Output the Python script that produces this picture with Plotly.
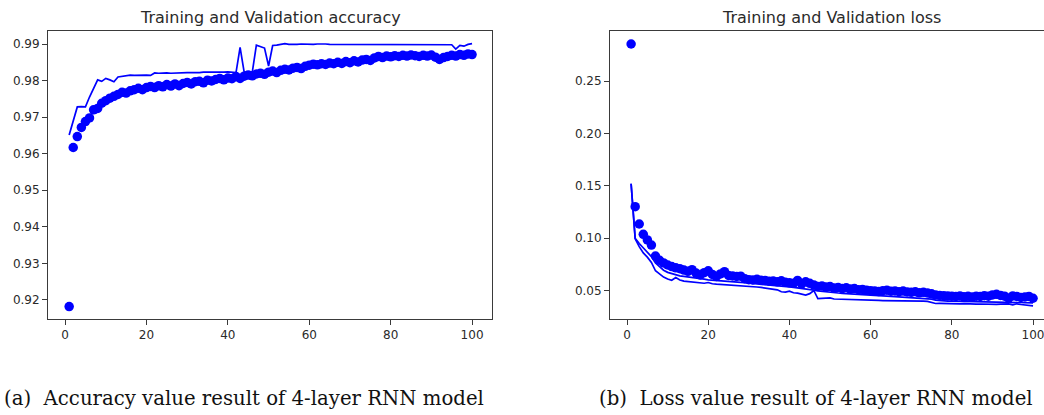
import plotly.graph_objects as go

W, H = 1044, 415

epochs = list(range(1, 101))

train_acc = [
    0.9182, 0.9617, 0.9647, 0.9672, 0.9688, 0.9698, 0.9720, 0.9724, 0.9738, 0.9745,
    0.9752, 0.9757, 0.9762, 0.9768, 0.9766, 0.9772, 0.9775, 0.9779, 0.9775, 0.9781,
    0.9784, 0.9781, 0.9786, 0.9783, 0.9789, 0.9785, 0.9791, 0.9786, 0.9792, 0.9795,
    0.9791, 0.9797, 0.9798, 0.9794, 0.9801, 0.9799, 0.9803, 0.9806, 0.9802, 0.9807,
    0.9805, 0.9811, 0.9806, 0.9812, 0.9815, 0.9813, 0.9818, 0.9820, 0.9817, 0.9823,
    0.9826, 0.9822, 0.9828, 0.9831, 0.9829, 0.9834, 0.9836, 0.9833, 0.9839, 0.9842,
    0.9845, 0.9843, 0.9846, 0.9844, 0.9848, 0.9846, 0.9850, 0.9847, 0.9852, 0.9849,
    0.9854, 0.9851, 0.9856, 0.9858, 0.9855, 0.9862, 0.9866, 0.9863, 0.9867, 0.9865,
    0.9868, 0.9866, 0.9869, 0.9867, 0.9870, 0.9868, 0.9866, 0.9869, 0.9867, 0.9870,
    0.9864, 0.9858, 0.9863, 0.9866, 0.9869, 0.9867, 0.9871, 0.9869, 0.9873, 0.9871,
]

val_acc = [
    0.9651, 0.9690, 0.9728, 0.9729, 0.9728, 0.9755, 0.9780, 0.9802, 0.9798, 0.9806,
    0.9802, 0.9797, 0.9810, 0.9812, 0.9813, 0.9815, 0.9814, 0.9815, 0.9816, 0.9815,
    0.9814, 0.9821, 0.9820, 0.9821, 0.9821, 0.9820, 0.9821, 0.9822, 0.9821, 0.9822,
    0.9822, 0.9821, 0.9822, 0.9823, 0.9822, 0.9823, 0.9823, 0.9822, 0.9823, 0.9824,
    0.9823, 0.9822, 0.9891, 0.9823, 0.9824, 0.9823, 0.9897, 0.9894, 0.9889, 0.9840,
    0.9896, 0.9897, 0.9899, 0.9901, 0.9899, 0.9898, 0.9899, 0.9900, 0.9899, 0.9898,
    0.9899, 0.9900, 0.9901, 0.9900, 0.9899, 0.9899, 0.9900, 0.9899, 0.9900, 0.9899,
    0.9898, 0.9899, 0.9900, 0.9899, 0.9900, 0.9899, 0.9898, 0.9899, 0.9898, 0.9899,
    0.9900, 0.9899, 0.9898, 0.9899, 0.9900, 0.9899, 0.9898, 0.9899, 0.9900, 0.9899,
    0.9898, 0.9899, 0.9900, 0.9899, 0.9898, 0.9886, 0.9896, 0.9894, 0.9899, 0.9901,
]

train_loss = [
    0.2853, 0.1301, 0.1136, 0.1038, 0.0984, 0.0935, 0.0831, 0.0790, 0.0765, 0.0745,
    0.0730, 0.0718, 0.0710, 0.0697, 0.0685, 0.0700, 0.0668, 0.0650, 0.0672, 0.0690,
    0.0655, 0.0636, 0.0660, 0.0681, 0.0645, 0.0640, 0.0636, 0.0638, 0.0615, 0.0605,
    0.0602, 0.0608, 0.0600, 0.0598, 0.0590, 0.0592, 0.0585, 0.0594, 0.0580, 0.0575,
    0.0570, 0.0598, 0.0565, 0.0585, 0.0570, 0.0555, 0.0540, 0.0545, 0.0535, 0.0540,
    0.0525, 0.0530, 0.0520, 0.0528, 0.0515, 0.0520, 0.0510, 0.0512, 0.0505, 0.0500,
    0.0498, 0.0492, 0.0500, 0.0505, 0.0495, 0.0498, 0.0490, 0.0496, 0.0488, 0.0485,
    0.0490, 0.0480, 0.0485, 0.0478, 0.0470, 0.0458, 0.0455, 0.0452, 0.0450, 0.0448,
    0.0445, 0.0450, 0.0442, 0.0446, 0.0440, 0.0448, 0.0445, 0.0452, 0.0448, 0.0460,
    0.0465, 0.0455, 0.0448, 0.0428, 0.0450, 0.0445, 0.0435, 0.0440, 0.0445, 0.0428,
]

val_loss = [
    0.1520, 0.0995, 0.0920, 0.0860, 0.0820, 0.0770, 0.0690, 0.0660, 0.0630, 0.0612,
    0.0600, 0.0625, 0.0602, 0.0592, 0.0588, 0.0585, 0.0580, 0.0576, 0.0571, 0.0578,
    0.0566, 0.0562, 0.0560, 0.0557, 0.0552, 0.0549, 0.0547, 0.0546, 0.0544, 0.0541,
    0.0538, 0.0535, 0.0531, 0.0526, 0.0522, 0.0515, 0.0508, 0.0490, 0.0486, 0.0496,
    0.0480, 0.0476, 0.0470, 0.0458, 0.0472, 0.0502, 0.0424, 0.0425, 0.0426, 0.0432,
    0.0421, 0.0419, 0.0418, 0.0416, 0.0415, 0.0413, 0.0412, 0.0411, 0.0410, 0.0409,
    0.0408, 0.0407, 0.0406, 0.0406, 0.0405, 0.0404, 0.0404, 0.0403, 0.0403, 0.0402,
    0.0401, 0.0401, 0.0400, 0.0398, 0.0390, 0.0378, 0.0379, 0.0377, 0.0376, 0.0378,
    0.0375, 0.0374, 0.0376, 0.0373, 0.0374, 0.0372, 0.0373, 0.0371, 0.0372, 0.0373,
    0.0370, 0.0372, 0.0371, 0.0374, 0.0365, 0.0375, 0.0368, 0.0363, 0.0360, 0.0356,
]

val_loss_b = [
    0.1520, 0.1000, 0.0950, 0.0905, 0.0865, 0.0825, 0.0765, 0.0725, 0.0695, 0.0675,
    0.0662, 0.0650, 0.0641, 0.0636, 0.0632, 0.0628, 0.0622, 0.0616, 0.0610, 0.0604,
    0.0600, 0.0597, 0.0594, 0.0591, 0.0588, 0.0585, 0.0582, 0.0579, 0.0576, 0.0573,
    0.0570, 0.0567, 0.0564, 0.0561, 0.0558, 0.0554, 0.0550, 0.0545, 0.0540, 0.0536,
    0.0531, 0.0527, 0.0522, 0.0517, 0.0512, 0.0505, 0.0498, 0.0493, 0.0489, 0.0486,
    0.0482, 0.0478, 0.0475, 0.0472, 0.0469, 0.0466, 0.0463, 0.0461, 0.0458, 0.0456,
    0.0453, 0.0451, 0.0449, 0.0447, 0.0445, 0.0443, 0.0441, 0.0439, 0.0437, 0.0435,
    0.0433, 0.0431, 0.0429, 0.0426, 0.0420, 0.0410, 0.0405, 0.0403, 0.0401, 0.0400,
    0.0399, 0.0398, 0.0397, 0.0396, 0.0396, 0.0395, 0.0394, 0.0394, 0.0393, 0.0392,
    0.0392, 0.0391, 0.0390, 0.0389, 0.0388, 0.0389, 0.0387, 0.0386, 0.0385, 0.0384,
]

acc_yticks = [0.92, 0.93, 0.94, 0.95, 0.96, 0.97, 0.98, 0.99]
loss_yticks = [0.05, 0.10, 0.15, 0.20, 0.25]
xticks = [0, 20, 40, 60, 80, 100]

titles = ["Training and Validation accuracy", "Training and Validation loss"]
captions = ["(a)  Accuracy value result of 4-layer RNN model",
            "(b)  Loss value result of 4-layer RNN model"]

BLUE = "#0000ff"
AX = "#3a3a3a"
TXT = "#2a2a2a"

fig = go.Figure()

# accuracy panel
fig.add_trace(go.Scatter(x=epochs, y=train_acc, mode="markers",
                         marker=dict(color=BLUE, size=9.5, line=dict(width=0)),
                         xaxis="x", yaxis="y", showlegend=False))
fig.add_trace(go.Scatter(x=epochs, y=val_acc, mode="lines",
                         line=dict(color=BLUE, width=1.7),
                         xaxis="x", yaxis="y", showlegend=False))
# loss panel
fig.add_trace(go.Scatter(x=epochs, y=train_loss, mode="markers",
                         marker=dict(color=BLUE, size=9.5, line=dict(width=0)),
                         xaxis="x2", yaxis="y2", showlegend=False))
fig.add_trace(go.Scatter(x=epochs, y=val_loss_b, mode="lines",
                         line=dict(color=BLUE, width=1.7),
                         xaxis="x2", yaxis="y2", showlegend=False))
fig.add_trace(go.Scatter(x=epochs, y=val_loss, mode="lines",
                         line=dict(color=BLUE, width=1.7),
                         xaxis="x2", yaxis="y2", showlegend=False))


def px_x(p):
    return p / W


def px_y(p):
    return 1 - p / H


top, bottom = 31, 319
tickfont = dict(family="DejaVu Sans", size=12, color=TXT)
common_x = dict(showgrid=False, zeroline=False, showline=True, linecolor=AX, linewidth=1,
                ticks="outside", ticklen=5, tickcolor=AX, tickwidth=1,
                tickvals=xticks, ticktext=[str(v) for v in xticks], tickfont=tickfont,
                ticklabeloverflow="allow")
common_y = dict(showgrid=False, zeroline=False, showline=True, linecolor=AX, linewidth=1,
                ticks="outside", ticklen=5, tickcolor=AX, tickwidth=1, tickfont=tickfont)

fig.update_layout(
    width=W, height=H, margin=dict(l=0, r=0, t=0, b=0),
    paper_bgcolor="white", plot_bgcolor="white",
    xaxis=dict(domain=[px_x(48), px_x(492)], range=[-4.2, 104.9], anchor="y",
               mirror=True, **common_x),
    yaxis=dict(domain=[px_y(bottom), px_y(top)], range=[0.9148, 0.99356], anchor="x",
               mirror=True, tickvals=acc_yticks, ticktext=[f"{v:.2f}" for v in acc_yticks],
               **common_y),
    xaxis2=dict(domain=[px_x(610), 1.0], range=[-4.2, 102.7], anchor="y2",
                mirror=True, **common_x),
    yaxis2=dict(domain=[px_y(bottom), px_y(top)], range=[0.0230, 0.2977], anchor="x2",
                tickvals=loss_yticks, ticktext=[f"{v:.2f}" for v in loss_yticks],
                **common_y),
)

annotations = [
    dict(text=titles[0], x=px_x(270), y=px_y(17), xref="paper", yref="paper",
         xanchor="center", yanchor="middle", showarrow=False,
         font=dict(family="DejaVu Sans", size=16, color=TXT)),
    dict(text=titles[1], x=px_x(831), y=px_y(17), xref="paper", yref="paper",
         xanchor="center", yanchor="middle", showarrow=False,
         font=dict(family="DejaVu Sans", size=16, color=TXT)),
    dict(text=captions[0], x=px_x(2), y=px_y(398), xref="paper", yref="paper",
         xanchor="left", yanchor="middle", showarrow=False,
         font=dict(family="DejaVu Serif", size=19.7, color="#111111")),
    dict(text=captions[1], x=px_x(597), y=px_y(398), xref="paper", yref="paper",
         xanchor="left", yanchor="middle", showarrow=False,
         font=dict(family="DejaVu Serif", size=19.7, color="#111111")),
]
fig.update_layout(annotations=annotations)

fig.write_html("out.html")
